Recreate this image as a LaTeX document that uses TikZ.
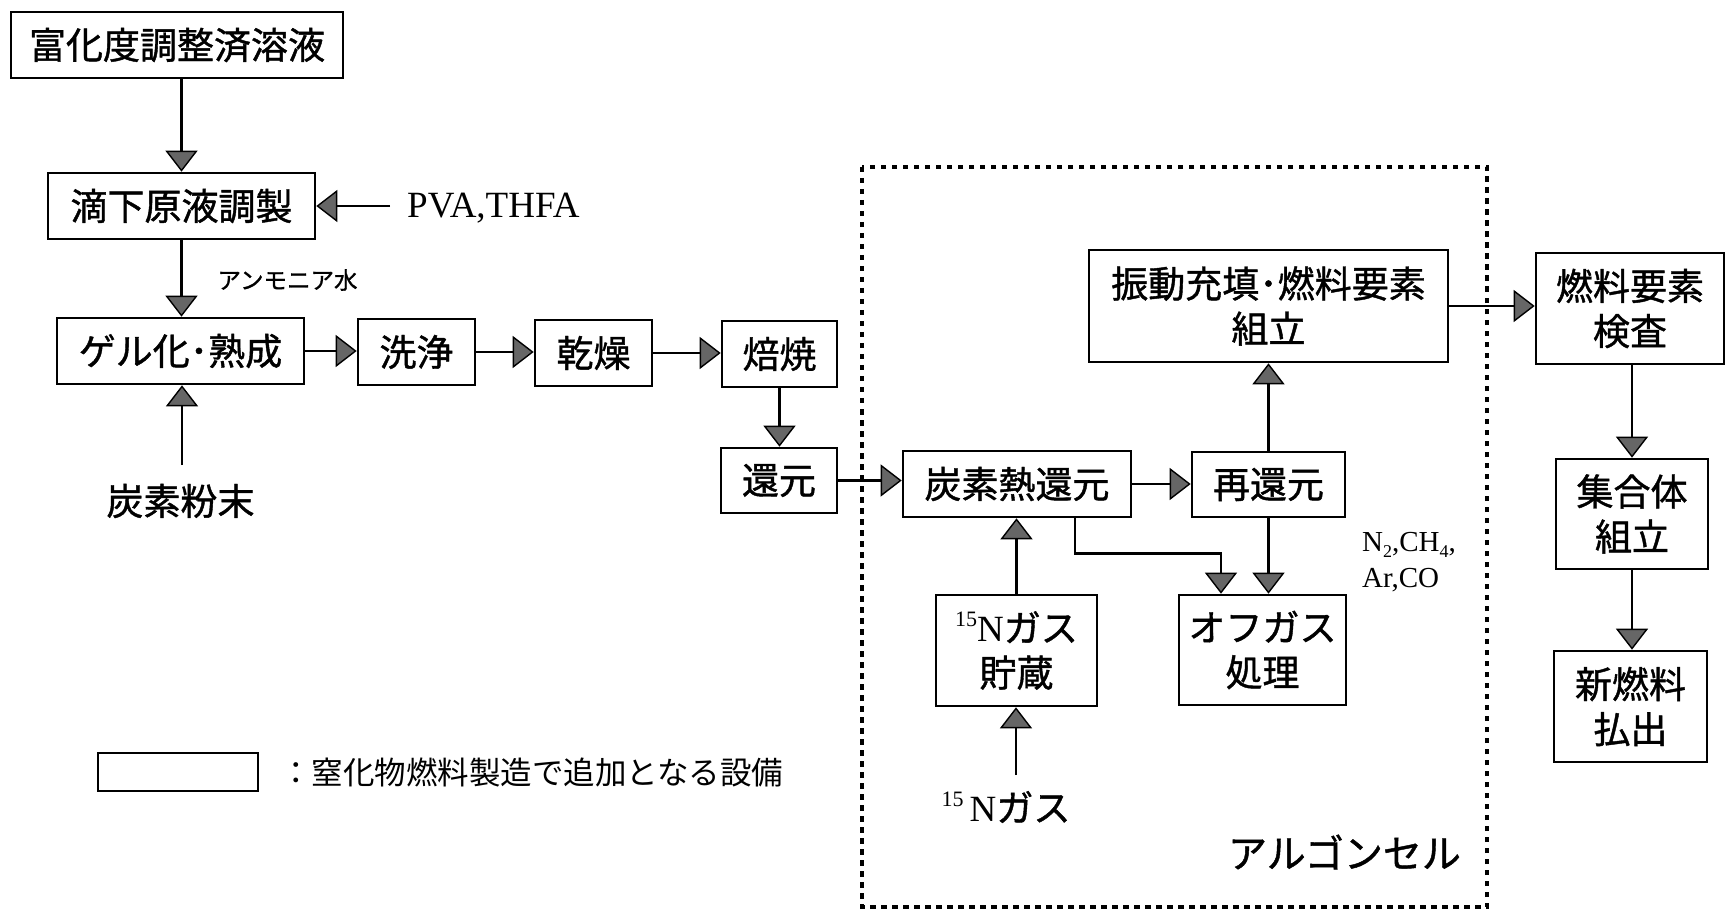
\documentclass[tikz,border=0pt]{standalone}
\usepackage{fontspec}
\setmainfont{Liberation Serif}
\newfontfamily\jp{Noto Sans CJK JP}
\newfontfamily\jpb[FakeBold=1.1]{Noto Sans CJK JP}
\usetikzlibrary{arrows.meta}
\newcommand\mysup[1]{\raisebox{0.42em}{\fontsize{22}{22}\selectfont #1}}
\newcommand\mysub[1]{\raisebox{-0.22em}{\fontsize{18}{18}\selectfont #1}}
\begin{document}
\begin{tikzpicture}[x=1pt,y=-1pt,
  box/.style={draw,line width=2.6pt,inner sep=0pt,align=center,font=\jpb\fontsize{37}{45}\selectfont},
  conn/.style={line width=2.6pt,-{Triangle[length=21pt,width=32pt,fill=black!60,line width=1.4pt]}},
  lbl/.style={inner sep=0pt,font=\jpb\fontsize{37}{45}\selectfont},
  serif/.style={inner sep=0pt,font=\rmfamily\fontsize{37}{37}\selectfont}]
\useasboundingbox (0,0) rectangle (1725,917);
% boxes
\node[box,minimum width=332pt,minimum height=66pt] (A) at (177,45) {富化度調整済溶液};
\node[box,minimum width=267pt,minimum height=66pt] (B) at (181.5,206) {滴下原液調製};
\node[box,minimum width=247pt,minimum height=66pt] (C) at (180.5,351) {ゲル化･熟成};
\node[box,minimum width=117pt,minimum height=66pt] (D) at (416.5,352) {洗浄};
\node[box,minimum width=117pt,minimum height=66pt] (E) at (593.5,353) {乾燥};
\node[box,minimum width=115pt,minimum height=66pt] (F) at (779.5,354) {焙焼};
\node[box,minimum width=116pt,minimum height=65pt] (G) at (779,480.5) {還元};
\node[box,minimum width=228pt,minimum height=66pt] (H) at (1017,484) {炭素熱還元};
\node[box,minimum width=153pt,minimum height=65pt] (I) at (1268.5,484.5) {再還元};
\node[box,minimum width=359pt,minimum height=112pt] (J) at (1268.5,306) {振動充填･燃料要素\\組立};
\node[box,minimum width=161pt,minimum height=111pt] (K) at (1016.5,650.5) {{\rmfamily\mysup{15}N}ガス\\貯蔵};
\node[box,minimum width=167pt,minimum height=110pt] (L) at (1262.5,650) {オフガス\\処理};
\node[box,minimum width=188pt,minimum height=111pt] (M) at (1630,308.5) {燃料要素\\検査};
\node[box,minimum width=152pt,minimum height=110pt] (N) at (1632,514) {集合体\\組立};
\node[box,minimum width=153pt,minimum height=111pt] (O) at (1630.5,706.5) {新燃料\\払出};
% labels
\node[serif,anchor=west] (pva) at (407,208) {PVA,THFA};
\node[inner sep=0pt,font=\jpb\fontsize{23.5}{24}\selectfont] (amm) at (287.5,280) {アンモニア水};
\node[lbl] (carb) at (180.5,501) {炭素粉末};
\node[lbl] (n15) at (1006,807) {{\rmfamily\mysup{15}\,N}ガス};
\node[inner sep=0pt,anchor=west,font=\rmfamily\fontsize{29}{29}\selectfont] (g1) at (1362,545) {N\mysub{2},CH\mysub{4},};
\node[inner sep=0pt,anchor=west,font=\rmfamily\fontsize{29}{29}\selectfont] (g2) at (1362,580) {Ar,CO};
\node[inner sep=0pt,font=\jpb\fontsize{39}{39}\selectfont] (argon) at (1344.5,852) {アルゴンセル};
% argon cell
\draw[line width=4.5pt,dash pattern=on 5.5pt off 5.5pt] (862,167) rectangle (1487,907);
% legend
\node[draw,line width=2pt,minimum width=160pt,minimum height=38pt,inner sep=0pt] (leg) at (178,772) {};
\node[inner sep=0pt,anchor=west,font=\jp\fontsize{31.5}{32}\selectfont] (legt) at (280,772) {：窒化物燃料製造で追加となる設備};
% free ends
\coordinate (pvaS) at (390,206);
\coordinate (carbT) at (182,465);
\coordinate (n15T) at (1016,775);
% connectors
\draw[conn] (A.south -| B.north) -- (B.north);
\draw[conn] (pvaS) -- (B.east);
\draw[conn] (B.south) -- (B.south |- C.north);
\draw[conn] (carbT) -- (carbT |- C.south);
\draw[conn] (C.east) -- (C.east -| D.west);
\draw[conn] (D.east) -- (D.east -| E.west);
\draw[conn] (E.east) -- (E.east -| F.west);
\draw[conn] (F.south) -- (F.south |- G.north);
\draw[conn] (G.east) -- (G.east -| H.west);
\draw[conn] (H.east) -- (H.east -| I.west);
\draw[conn] (I.north) -- (I.north |- J.south);
\draw[conn] (J.east) -- (J.east -| M.west);
\draw[conn] (K.north) -- (K.north |- H.south);
\draw[conn] (n15T) -- (n15T |- K.south);
\draw[conn] ([xshift=58pt]H.south) -- ++(0,35) -| ([xshift=-41.5pt]L.north);
\draw[conn] (I.south) -- (I.south |- L.north);
\draw[conn] (M.south -| N.north) -- (N.north);
\draw[conn] (N.south) -- (N.south |- O.north);
\end{tikzpicture}
\end{document}
